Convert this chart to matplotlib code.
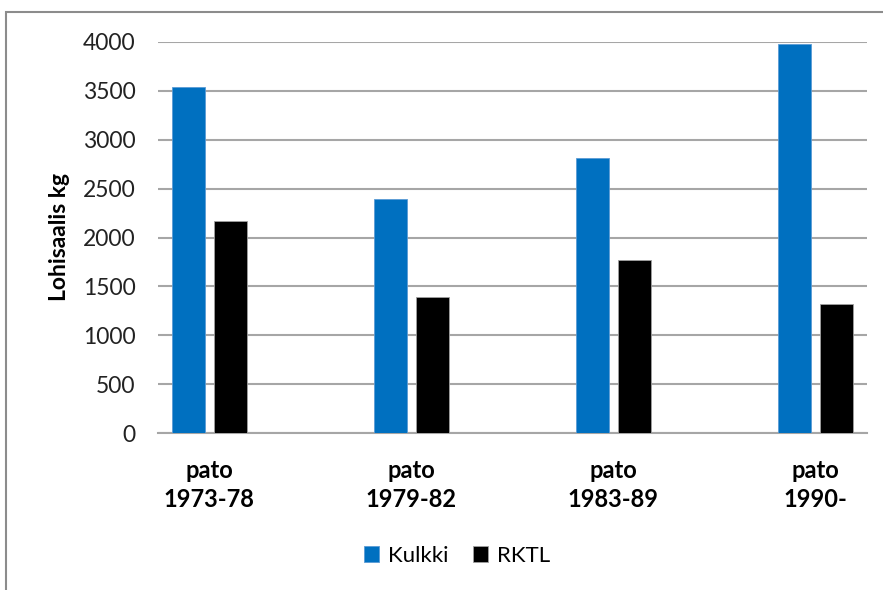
import numpy as np
import matplotlib
matplotlib.use('Agg')
import matplotlib.pyplot as plt
from matplotlib.patches import Rectangle

# data
periods = ['pato\n1973-78', 'pato\n1979-82', 'pato\n1983-89', 'pato\n1990-']
kulkki = [3540, 2390, 2810, 3975]
rktl = [2170, 1395, 1765, 1315]

plt.rcParams['font.family'] = ['Lato', 'DejaVu Sans']

fig = plt.figure(figsize=(8.83, 5.90), dpi=100)
ax = fig.add_axes([158 / 883, 1 - 433 / 590, (867 - 158) / 883, (433 - 42) / 590])

x = np.arange(len(periods))
w = 0.166
off = 0.104
ax.bar(x - off, kulkki, width=w, color='#0070C0', edgecolor='#5B9BD5', linewidth=0.6,
       label='Kulkki', zorder=3)
ax.bar(x + off, rktl, width=w, color='black', edgecolor='#A0A0A0', linewidth=0.6,
       label='RKTL', zorder=3)

ax.set_xlim(-0.2545, 3.256)
ax.set_ylim(0, 4000)
ax.set_yticks(np.arange(0, 4001, 500))
ax.yaxis.grid(True, color='#A6A6A6', linewidth=1.5, zorder=0)
ax.set_axisbelow(True)
for s in ['top', 'right', 'left']:
    ax.spines[s].set_visible(False)
ax.spines['bottom'].set_color('#A6A6A6')
ax.spines['bottom'].set_linewidth(1.5)

ax.set_xticks(x)
ax.set_xticklabels(periods, fontsize=17, fontweight='bold', linespacing=1.3)
ax.tick_params(axis='x', length=0, pad=19)
ax.tick_params(axis='y', length=0, pad=16, labelsize=16.5, labelcolor='#222222')

fig.text(60 / 883, 1 - 237 / 590, 'Lohisaalis kg', rotation=90, fontsize=16.5,
         fontweight='bold', ha='center', va='center')

leg = fig.legend(loc='center', bbox_to_anchor=(457 / 883, 1 - 556 / 590), ncol=2,
                 frameon=False, fontsize=16, handlelength=0.7, handleheight=0.7,
                 handletextpad=0.4, columnspacing=1.1)

# outer chart frame
fig.patches.append(Rectangle((6 / 883, -0.05), 1.1, (1 - 12 / 590) + 0.05,
                             transform=fig.transFigure, fill=False,
                             edgecolor='#8C8C8C', linewidth=1.5))

fig.savefig('out.png', dpi=100)
